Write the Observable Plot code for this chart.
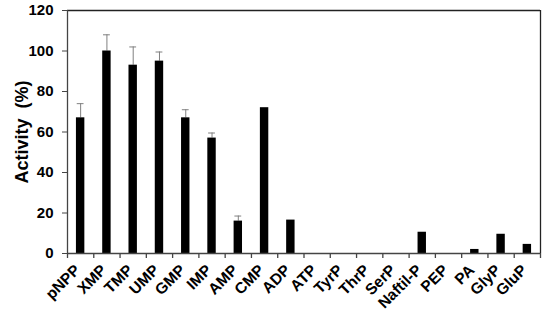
<!DOCTYPE html>
<html><head><meta charset="utf-8">
<script src="https://cdn.jsdelivr.net/npm/d3@7"></script>
<script src="https://cdn.jsdelivr.net/npm/@observablehq/plot@0.6"></script>
<style>body{margin:0;background:#fff;} svg{font-family:"Liberation Sans",Arial,sans-serif;}</style>
</head><body><div id="chart"></div>
<script>
const categories = ["pNPP","XMP","TMP","UMP","GMP","IMP","AMP","CMP","ADP","ATP","TyrP","ThrP","SerP","Naftil-P","PEP","PA","GlyP","GluP"];
const activity   = [67, 100, 93, 95, 67, 57, 16, 72, 16.5, 0, 0, 0, 0, 10.5, 0, 2, 9.5, 4.5];
const errorUpper = [74, 108, 102, 99.5, 71, 59.5, 18.5, null, null, null, null, null, null, null, null, null, null, null];
const yTicks = [0, 20, 40, 60, 80, 100, 120];

const data = categories.map((c, i) => ({c, i, v: activity[i], e: errorUpper[i]}));
const errs = data.filter(d => d.e != null);
const n = categories.length;
const bounds = d3.range(n + 1);

const chart = Plot.plot({
  width: 550, height: 320,
  marginLeft: 67, marginRight: 10, marginTop: 10, marginBottom: 67,
  x: {type: "linear", domain: [0, n], axis: null},
  y: {type: "linear", domain: [0, 120], axis: null},
  marks: [
    Plot.ruleX(errs, {x: d => d.i + 0.5, y1: "v", y2: "e", stroke: "#808080", strokeWidth: 1}),
    Plot.ruleY(errs, {y: "e", x1: d => d.i + 0.37, x2: d => d.i + 0.63, stroke: "#808080", strokeWidth: 1}),
    Plot.rectY(data, {x1: d => d.i + 0.34, x2: d => d.i + 0.66, y1: 0, y2: "v", fill: "#000"}),
    Plot.ruleY([0], {stroke: "#444", strokeWidth: 1.3}),
    Plot.ruleY([120], {stroke: "#222", strokeWidth: 1.3}),
    Plot.ruleX([0], {stroke: "#444", strokeWidth: 1.3}),
    Plot.ruleX([n], {stroke: "#222", strokeWidth: 1.3}),
    Plot.ruleX(bounds, {x: d => d, y1: 0, y2: 0, insetTop: 0, insetBottom: -5, stroke: "#444", strokeWidth: 1.3}),
    Plot.axisY({ticks: yTicks, tickSize: 5, tickPadding: 9, fontSize: 15, fontWeight: "bold", label: null, stroke: "#444", color: "#000"}),
    Plot.text(data, {x: d => d.i + 0.5, y: 0, text: "c", rotate: -45, textAnchor: "end", dx: -3, dy: 14, fontSize: 15.5, fontWeight: "bold", fill: "#000"}),
    Plot.text(["Activity  (%)"], {frameAnchor: "left", textAnchor: "middle", rotate: -90, dx: -45, fontSize: 18, fontWeight: "bold", fill: "#000"})
  ]
});
document.getElementById("chart").append(chart);
</script></body></html>
